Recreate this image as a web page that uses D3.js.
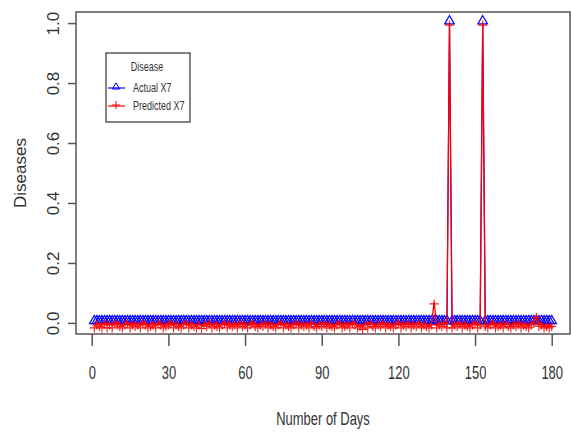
<!DOCTYPE html>
<html>
<head>
<meta charset="UTF-8">
<title>Diseases</title>
<script src="https://cdn.jsdelivr.net/npm/d3@7"></script>
<style>
  body { margin: 0; background: #fff; }
  text { font-family: "Liberation Sans", Arial, sans-serif; fill: #333; }
</style>
</head>
<body>
<div id="chart"></div>
<script>
// days 1..180
var days = d3.range(1, 181);

var actual = [
  0,0,0,0,0,0,0,0,0,0, 0,0,0,0,0,0,0,0,0,0,
  0,0,0,0,0,0,0,0,0,0, 0,0,0,0,0,0,0,0,0,0,
  0,0,0,0,0,0,0,0,0,0, 0,0,0,0,0,0,0,0,0,0,
  0,0,0,0,0,0,0,0,0,0, 0,0,0,0,0,0,0,0,0,0,
  0,0,0,0,0,0,0,0,0,0, 0,0,0,0,0,0,0,0,0,0,
  0,0,0,0,0,0,0,0,0,0, 0,0,0,0,0,0,0,0,0,0,
  0,0,0,0,0,0,0,0,0,0, 0,0,0,0,0,0,0,0,0,1,
  0,0,0,0,0,0,0,0,0,0, 0,0,1,0,0,0,0,0,0,0,
  0,0,0,0,0,0,0,0,0,0, 0,0,0,0,0,0,0,0,0,0
];

var predicted = [
  -0.01,0,-0.005,-0.01,0.005,-0.01,0,-0.01,0.005,0, -0.005,-0.01,0,0.005,-0.01,0,-0.005,0,-0.01,0.005,
  0,-0.01,-0.005,0,-0.01,0.005,0,-0.01,-0.005,0, 0.005,-0.01,0,-0.005,-0.01,0,0.005,-0.01,0,-0.005,
  -0.01,0,-0.012,0,-0.005,0.005,-0.01,0,-0.005,-0.01, 0,0.005,-0.01,0,-0.005,0,-0.01,0.005,-0.005,0,
  -0.01,0,0.005,-0.005,-0.01,0,-0.005,0.005,-0.01,0, -0.005,-0.01,0,0.005,-0.01,0,-0.005,-0.01,0,0.005,
  -0.01,0,-0.005,0,-0.01,0.005,-0.005,-0.01,0,-0.005, 0.005,-0.01,0,-0.005,-0.01,0,0.005,-0.01,-0.005,0,
  -0.01,0.005,0,-0.01,-0.005,-0.015,0,-0.01,0.005,-0.005, -0.01,0,-0.005,0.005,-0.01,0,-0.005,-0.01,0,0.005,
  -0.01,0,-0.005,0.005,-0.01,0,-0.005,0.005,-0.01,0, -0.005,-0.01,0,0.07,-0.01,0,-0.005,0.005,-0.01,1.0,
  -0.01,0,-0.005,0.005,-0.01,0,-0.005,-0.01,0,0.005, -0.01,0,1.0,-0.005,-0.01,0,0.005,-0.01,-0.005,0,
  -0.01,0.005,-0.005,-0.01,0,-0.005,0.005,-0.01,0,-0.005, -0.01,0,0.005,0.025,-0.005,0,-0.01,-0.005,-0.01,-0.005
];

var xTicks = [0, 30, 60, 90, 120, 150, 180];
var yTicks = [0.0, 0.2, 0.4, 0.6, 0.8, 1.0];

var W = 571, H = 432;
var mLeft = 76, mRight = 570, mTop = 12, mBottom = 334;
var narrow = 0.72;

var svg = d3.select("#chart").append("svg")
    .attr("width", W).attr("height", H);

var x = d3.scaleLinear().domain([1 - 7.16, 180 + 7.16]).range([mLeft, mRight]);
var y = d3.scaleLinear().domain([-0.037, 1.037]).range([mBottom, mTop]);

// plot box
svg.append("rect")
    .attr("x", mLeft).attr("y", mTop)
    .attr("width", mRight - mLeft).attr("height", mBottom - mTop)
    .attr("fill", "none").attr("stroke", "#555").attr("stroke-width", 1.5);

// x axis
var xAxis = svg.append("g")
    .attr("transform", "translate(0," + mBottom + ")")
    .call(d3.axisBottom(x).tickValues(xTicks).tickSize(12).tickFormat(""));
xAxis.select(".domain").remove();
xAxis.selectAll("line").attr("stroke", "#555").attr("stroke-width", 1.5);
xAxis.selectAll(".tick").append("text")
    .attr("transform", "translate(0,45) scale(" + narrow + ",1)")
    .attr("text-anchor", "middle")
    .style("font-size", "18px")
    .text(function (d) { return d; });

// y axis
var yAxis = svg.append("g")
    .attr("transform", "translate(" + mLeft + ",0)")
    .call(d3.axisLeft(y).tickValues(yTicks).tickSize(8).tickFormat(""));
yAxis.select(".domain").remove();
yAxis.selectAll("line").attr("stroke", "#555").attr("stroke-width", 1.5);
yAxis.selectAll(".tick").append("text")
    .attr("transform", "translate(-17,0) rotate(-90)")
    .attr("text-anchor", "middle")
    .style("font-size", "17px")
    .text(function (d) { return d3.format(".1f")(d); });

// axis titles
svg.append("text")
    .attr("transform", "translate(" + ((mLeft + mRight) / 2) + ",425) scale(" + narrow + ",1)")
    .attr("text-anchor", "middle").style("font-size", "18px")
    .text("Number of Days");
svg.append("text")
    .attr("transform", "translate(26," + ((mTop + mBottom) / 2) + ") rotate(-90)")
    .attr("text-anchor", "middle").style("font-size", "17px")
    .text("Diseases");

var line = d3.line().x(function (d, i) { return x(days[i]); }).y(function (d) { return y(d); });

// actual series (blue triangles)
svg.append("path").datum(actual)
    .attr("d", line).attr("fill", "none").attr("stroke", "#0000ff").attr("stroke-width", 1.2);
svg.append("g").selectAll("path").data(actual).enter().append("path")
    .attr("d", d3.symbol().type(d3.symbolTriangle).size(40))
    .attr("transform", function (d, i) { return "translate(" + x(days[i]) + "," + (y(d) - 2) + ")"; })
    .attr("fill", "none").attr("stroke", "#0000ff").attr("stroke-width", 1.2);

// predicted series (red pluses)
svg.append("path").datum(predicted)
    .attr("d", line).attr("fill", "none").attr("stroke", "#ff0000").attr("stroke-width", 1.3);
svg.append("g").selectAll("path").data(predicted).enter().append("path")
    .attr("d", "M-4.5,0H4.5M0,-4.5V4.5")
    .attr("transform", function (d, i) { return "translate(" + x(days[i]) + "," + (y(d) + 2) + ")"; })
    .attr("fill", "none").attr("stroke", "#ff0000").attr("stroke-width", 1.1).attr("opacity", 0.9);

// legend
var lg = svg.append("g").attr("transform", "translate(106,53)");
lg.append("rect").attr("width", 84).attr("height", 69)
    .attr("fill", "#fff").attr("stroke", "#333").attr("stroke-width", 1.2);
lg.append("text").attr("transform", "translate(41,18) scale(0.75,1)").attr("text-anchor", "middle")
    .style("font-size", "12px").text("Disease");
var items = [
  { name: "Actual X7", color: "#0000ff", shape: "tri" },
  { name: "Predicted X7", color: "#ff0000", shape: "plus" }
];
items.forEach(function (it, i) {
  var gy = 35 + i * 18;
  lg.append("line").attr("x1", 2).attr("x2", 19).attr("y1", gy).attr("y2", gy)
      .attr("stroke", it.color).attr("stroke-width", 1.2);
  lg.append("path")
      .attr("d", it.shape === "tri" ? d3.symbol().type(d3.symbolTriangle).size(22)() : "M-4,0H4M0,-4V4")
      .attr("transform", "translate(10," + (gy - 1) + ")")
      .attr("fill", "none").attr("stroke", it.color);
  lg.append("text").attr("transform", "translate(27," + (gy + 4) + ") scale(0.75,1)")
      .style("font-size", "12px").text(it.name);
});
</script>
</body>
</html>
